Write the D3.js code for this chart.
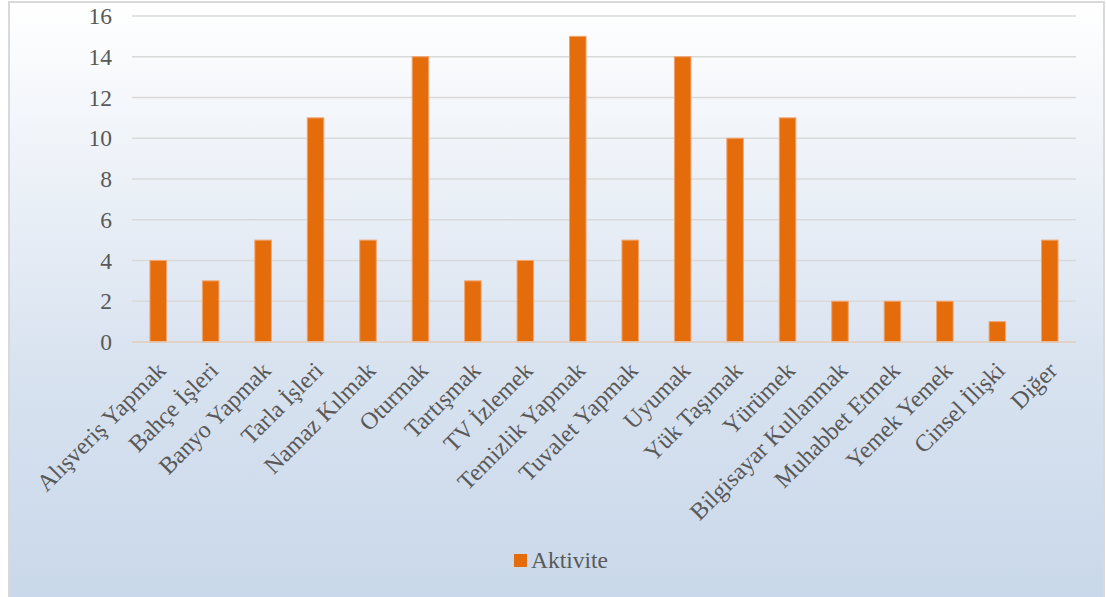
<!DOCTYPE html>
<html>
<head>
<meta charset="utf-8">
<script src="https://cdn.jsdelivr.net/npm/d3@7"></script>
<style>
  html, body { margin: 0; padding: 0; background: #ffffff; }
  svg { display: block; }
</style>
</head>
<body>
<svg id="chart" width="1106" height="597"></svg>
<script>
// Activity categories and their counts
const categories = [
  "Alışveriş Yapmak", "Bahçe İşleri", "Banyo Yapmak", "Tarla İşleri", "Namaz Kılmak",
  "Oturmak", "Tartışmak", "TV İzlemek", "Temizlik Yapmak", "Tuvalet Yapmak",
  "Uyumak", "Yük Taşımak", "Yürümek", "Bilgisayar Kullanmak", "Muhabbet Etmek",
  "Yemek Yemek", "Cinsel İlişki", "Diğer"
];
const values = [4, 3, 5, 11, 5, 14, 3, 4, 15, 5, 14, 10, 11, 2, 2, 2, 1, 5];
const yTicks = [0, 2, 4, 6, 8, 10, 12, 14, 16];
const seriesName = "Aktivite";

const FONT = "'Liberation Serif', 'Times New Roman', Times, serif";
const TEXT_COLOR = "#595959";
const FONT_SIZE = "23.5px";
const LABEL_SIZE = "24px";

const svg = d3.select("#chart");
const W = 1106, H = 597;

// Background panel with vertical gradient
const defs = svg.append("defs");
const grad = defs.append("linearGradient")
  .attr("id", "bg").attr("x1", 0).attr("y1", 0).attr("x2", 0).attr("y2", 1);
grad.append("stop").attr("offset", "0%").attr("stop-color", "#ffffff");
grad.append("stop").attr("offset", "60%").attr("stop-color", "#d9e3f0");
grad.append("stop").attr("offset", "100%").attr("stop-color", "#c9d8ea");

svg.append("rect")
  .attr("x", 9).attr("y", 2).attr("width", W - 11).attr("height", H - 1)
  .attr("fill", "url(#bg)")
  .attr("stroke", "#d9d9d9").attr("stroke-width", 2);

const plot = { left: 132, right: 1076, top: 16, bottom: 342 };

const x = d3.scaleBand()
  .domain(categories)
  .range([plot.left, plot.right])
  .paddingInner(0.685)
  .paddingOuter(0.3425);

const y = d3.scaleLinear()
  .domain([0, 16])
  .range([plot.bottom, plot.top]);

// Horizontal gridlines
svg.append("g")
  .selectAll("line")
  .data(yTicks.filter(d => d > 0))
  .join("line")
  .attr("x1", plot.left).attr("x2", plot.right)
  .attr("y1", d => y(d)).attr("y2", d => y(d))
  .attr("stroke", "#d9d9d9").attr("stroke-width", 1.5);

// Y axis labels
const yAxis = d3.axisLeft(y).tickValues(yTicks).tickSize(0).tickPadding(20);
const gy = svg.append("g")
  .attr("transform", `translate(${plot.left},0)`)
  .call(yAxis);
gy.select(".domain").remove();
gy.attr("font-family", null).attr("font-size", null);
gy.selectAll("text")
  .style("font-family", FONT)
  .style("font-size", FONT_SIZE)
  .style("fill", TEXT_COLOR);

// Bars
svg.append("g")
  .selectAll("rect")
  .data(values)
  .join("rect")
  .attr("x", (d, i) => x(categories[i]))
  .attr("width", x.bandwidth())
  .attr("y", d => y(d))
  .attr("height", d => y(0) - y(d))
  .attr("fill", "#e46c0a")
  .attr("stroke", "#f0a470")
  .attr("stroke-width", 1);

// Baseline
svg.append("line")
  .attr("x1", plot.left).attr("x2", plot.right)
  .attr("y1", y(0)).attr("y2", y(0))
  .attr("stroke", "#e3cdb8").attr("stroke-width", 1.5);

// X axis labels, rotated
const xAxis = d3.axisBottom(x).tickSize(0).tickPadding(0);
const gx = svg.append("g")
  .attr("transform", `translate(0,${plot.bottom})`)
  .call(xAxis);
gx.select(".domain").remove();
gx.attr("font-family", null).attr("font-size", null);
gx.selectAll("text")
  .style("font-family", FONT)
  .style("font-size", LABEL_SIZE)
  .style("fill", TEXT_COLOR)
  .attr("text-anchor", "end")
  .attr("dy", null)
  .attr("y", 0)
  .attr("transform", "translate(9,30) rotate(-45)");

// Legend
const legend = svg.append("g").attr("transform", "translate(514,554)");
legend.append("rect")
  .attr("width", 13).attr("height", 13)
  .attr("fill", "#e46c0a");
legend.append("text")
  .attr("x", 17).attr("y", 14)
  .style("font-family", FONT)
  .style("font-size", FONT_SIZE)
  .style("fill", TEXT_COLOR)
  .text(seriesName);
</script>
</body>
</html>
